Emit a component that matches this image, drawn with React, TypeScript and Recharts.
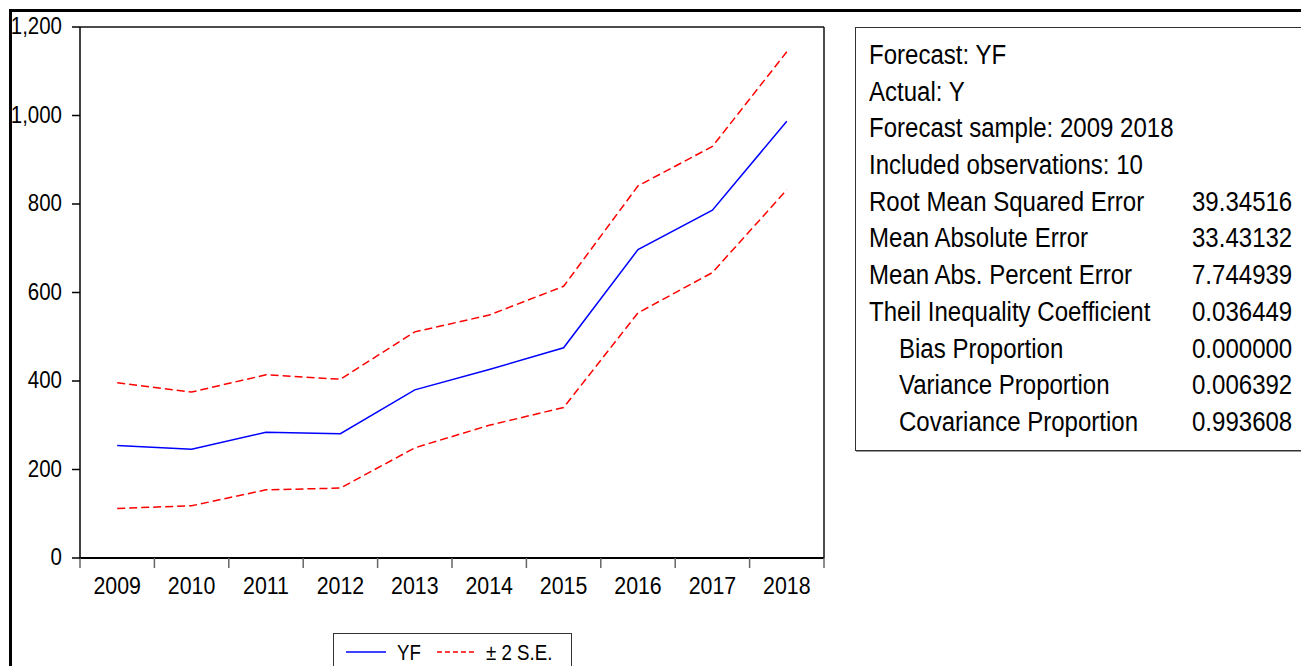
import { LineChart, Line, XAxis, YAxis } from "recharts";

const years = ["2009", "2010", "2011", "2012", "2013", "2014", "2015", "2016", "2017", "2018"];
const yf = [254, 246, 284, 281, 380, 426, 475, 697, 786, 987];
const upper = [396, 375, 414, 404, 511, 549, 614, 841, 930, 1144];
const lower = [112, 118, 154, 158, 249, 300, 340, 554, 645, 832];
const yTicks = [0, 200, 400, 600, 800, 1000, 1200];

const statLabels = [
  "Forecast: YF",
  "Actual: Y",
  "Forecast sample: 2009 2018",
  "Included observations: 10",
  "Root Mean Squared Error",
  "Mean Absolute Error",
  "Mean Abs. Percent Error",
  "Theil Inequality Coefficient",
  "Bias Proportion",
  "Variance Proportion",
  "Covariance Proportion",
];
const statValues = ["", "", "", "", "39.34516", "33.43132", "7.744939", "0.036449", "0.000000", "0.006392", "0.993608"];
const statIndent = [false, false, false, false, false, false, false, false, true, true, true];

const FONT = "'Liberation Sans', Arial, sans-serif";
const BLUE = "#0000ff";
const RED = "#ff0000";

const data = years.map((year, i) => ({
  year,
  pos: i + 0.5,
  yf: yf[i],
  upper: upper[i],
  lower: lower[i],
}));

const bounds = years.map((_, i) => i).concat(years.length);
const mids = years.map((_, i) => i + 0.5);

function EmptyTick() {
  return <g />;
}

function YearTick(props: any) {
  const { x, y, payload } = props;
  return (
    <text
      transform={`translate(${x},${y}) scale(0.89,1)`}
      x={0}
      y={0}
      dy={18}
      textAnchor="middle"
      fontSize={24}
      fontFamily={FONT}
      fill="#000"
    >
      {years[Math.floor(payload.value)]}
    </text>
  );
}

function ValueTick(props: any) {
  const { x, y, payload } = props;
  return (
    <text
      transform={`translate(${x},${y}) scale(0.89,1)`}
      x={0}
      y={0}
      dy={7}
      textAnchor="end"
      fontSize={23}
      fontFamily={FONT}
      fill="#000"
    >
      {Number(payload.value).toLocaleString("en-US")}
    </text>
  );
}

function StatsBox() {
  return (
    <div
      style={{
        position: "absolute",
        left: 855,
        top: 27,
        width: 470,
        height: 424,
        border: "1px solid #333",
        boxShadow: "1px 1px 0 #999",
        background: "#fff",
        fontFamily: FONT,
        fontSize: 27,
        color: "#000",
        paddingTop: 9,
        boxSizing: "border-box",
      }}
    >
      {statLabels.map((label, i) => (
        <div key={label} style={{ position: "relative", height: 36.7, lineHeight: "36.7px", whiteSpace: "nowrap" }}>
          <span
            style={{
              position: "absolute",
              left: statIndent[i] ? 43 : 13,
              display: "inline-block",
              transform: "scaleX(0.89)",
              transformOrigin: "left center",
            }}
          >
            {label}
          </span>
          {statValues[i] && (
            <span
              style={{
                position: "absolute",
                left: 336,
                display: "inline-block",
                transform: "scaleX(0.89)",
                transformOrigin: "left center",
              }}
            >
              {statValues[i]}
            </span>
          )}
        </div>
      ))}
    </div>
  );
}

function LegendBox() {
  return (
    <div
      style={{
        position: "absolute",
        left: 333,
        top: 633,
        width: 239,
        height: 60,
        border: "1px solid #333",
        background: "#fff",
        boxSizing: "border-box",
      }}
    >
      <svg width={237} height={40} style={{ position: "absolute", left: 0, top: 0 }}>
        <line x1={12} x2={52} y1={18} y2={18} stroke={BLUE} strokeWidth={1.5} />
        <line x1={103} x2={143} y1={18} y2={18} stroke={RED} strokeWidth={1.5} strokeDasharray="5 3" />
        <text transform="translate(63,26) scale(0.85,1)" fontSize={22} fontFamily={FONT} fill="#000">YF</text>
        <text transform="translate(152,26) scale(0.85,1)" fontSize={22} fontFamily={FONT} fill="#000">± 2 S.E.</text>
      </svg>
    </div>
  );
}

export default function App() {
  return (
    <div style={{ position: "absolute", left: 0, top: 0, width: 1301, height: 666, overflow: "hidden", background: "#fff" }}>
      <div
        style={{
          position: "absolute",
          left: 9,
          top: 9,
          width: 1400,
          height: 800,
          borderTop: "3px solid #000",
          borderLeft: "3px solid #000",
        }}
      />
      <div style={{ position: "absolute", left: 0, top: 0 }}>
        <LineChart width={840} height={666} data={data} margin={{ top: 26, right: 15, bottom: 106, left: 0 }}>
          <XAxis
            xAxisId="g"
            type="number"
            dataKey="pos"
            domain={[0, 10]}
            ticks={bounds}
            height={1}
            tick={<EmptyTick />}
            tickSize={10}
            tickLine={{ stroke: "#666", strokeWidth: 1.5 }}
            axisLine={{ stroke: "#000", strokeWidth: 2 }}
            interval={0}
            allowDataOverflow
          />
          <XAxis
            xAxisId="lab"
            type="number"
            dataKey="pos"
            domain={[0, 10]}
            ticks={mids}
            height={1}
            tickSize={0}
            tickMargin={17}
            tickLine={false}
            axisLine={false}
            tick={<YearTick />}
            interval={0}
            allowDataOverflow
          />
          <XAxis
            xAxisId="t"
            orientation="top"
            type="number"
            dataKey="pos"
            domain={[0, 10]}
            height={1}
            tick={false}
            tickLine={false}
            axisLine={{ stroke: "#111", strokeWidth: 1.5 }}
            allowDataOverflow
          />
          <YAxis
            domain={[0, 1200]}
            ticks={yTicks}
            width={80}
            tickSize={8}
            tickMargin={10}
            interval={0}
            tick={<ValueTick />}
            tickLine={{ stroke: "#000", strokeWidth: 1.5 }}
            axisLine={{ stroke: "#000", strokeWidth: 1.5 }}
          />
          <YAxis
            yAxisId="r"
            orientation="right"
            domain={[0, 1200]}
            width={1}
            tick={false}
            tickLine={false}
            axisLine={{ stroke: "#111", strokeWidth: 1.5 }}
          />
          <Line xAxisId="g" type="linear" dataKey="upper" stroke={RED} strokeWidth={1.5} strokeDasharray="8 4" dot={false} isAnimationActive={false} />
          <Line xAxisId="g" type="linear" dataKey="lower" stroke={RED} strokeWidth={1.5} strokeDasharray="8 4" dot={false} isAnimationActive={false} />
          <Line xAxisId="g" type="linear" dataKey="yf" stroke={BLUE} strokeWidth={1.5} dot={false} isAnimationActive={false} />
        </LineChart>
      </div>
      <StatsBox />
      <LegendBox />
    </div>
  );
}
